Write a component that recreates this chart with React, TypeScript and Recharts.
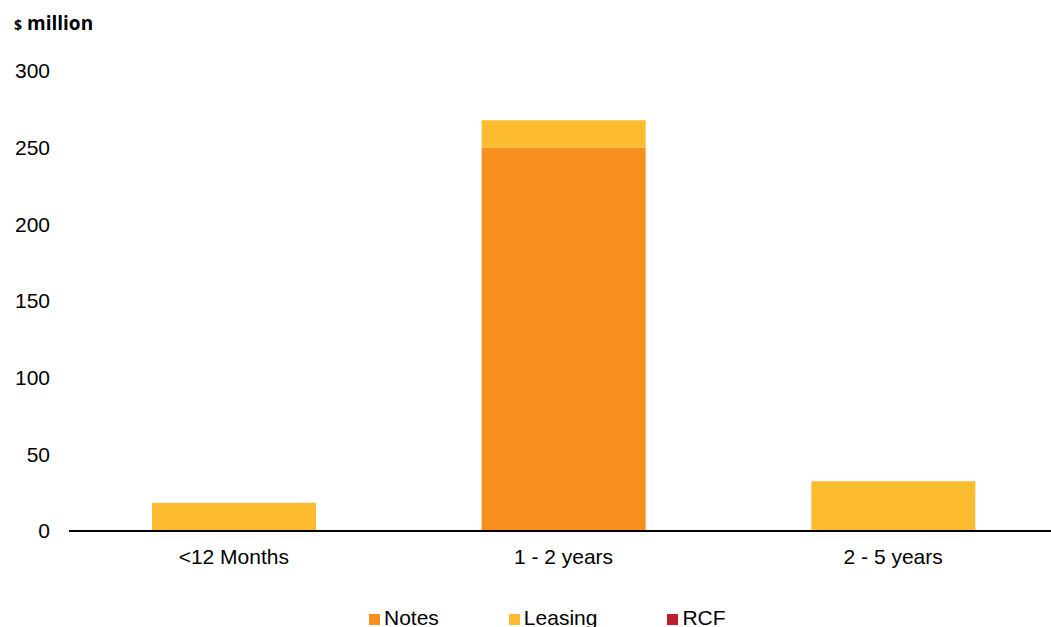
import React from "react";
import { BarChart, Bar, XAxis, YAxis, Legend } from "recharts";

// Debt maturity profile, $ million
const categories = ["<12 Months", "1 - 2 years", "2 - 5 years"];
const notes = [0, 250, 0];
const leasing = [18.5, 17.8, 32.4];
const rcf = [0, 0, 0];
const yTicks = [0, 50, 100, 150, 200, 250, 300];

const seriesNames = { notes: "Notes", leasing: "Leasing", rcf: "RCF" };
const colors = { notes: "#F7901E", leasing: "#FDBB30", rcf: "#BE1E2D" };

const data = categories.map((name, i) => ({
  name,
  notes: notes[i],
  leasing: leasing[i],
  rcf: rcf[i],
}));

const FONT = "'Liberation Sans', Arial, sans-serif";

const legendItems = [
  { key: "notes", label: seriesNames.notes, color: colors.notes },
  { key: "leasing", label: seriesNames.leasing, color: colors.leasing },
  { key: "rcf", label: seriesNames.rcf, color: colors.rcf },
];

const LegendContent = () => (
  <div
    style={{
      display: "flex",
      alignItems: "baseline",
      height: 24,
      lineHeight: "24px",
      paddingLeft: 369,
      position: "relative",
      top: 3,
      fontFamily: FONT,
      fontSize: 21,
      color: "#000",
    }}
  >
    {legendItems.map((it) => (
      <div key={it.key} style={{ display: "flex", alignItems: "baseline", marginRight: 70 }}>
        <span
          style={{
            display: "inline-block",
            width: 11,
            height: 11,
            background: it.color,
            marginRight: 4,
          }}
        />
        <span>{it.label}</span>
      </div>
    ))}
  </div>
);

const UnitLabel = () => (
  <text x={14} y={30} fontFamily="'Open Sans', sans-serif" fontWeight={700} fill="#000">
    <tspan fontSize={14}>$</tspan>
    <tspan fontSize={19} dx={5}>million</tspan>
  </text>
);

export default function App() {
  return (
    <div style={{ position: "absolute", left: 0, top: 0, width: 1051, height: 627, overflow: "hidden", background: "#fff" }}>
      <BarChart
        width={1060}
        height={627}
        data={data}
        margin={{ top: 71, right: 2, bottom: 0, left: 0 }}
        barSize={164}
      >
        <YAxis
          domain={[0, 300]}
          ticks={yTicks}
          axisLine={false}
          tickLine={false}
          width={69}
          tickMargin={13}
          tick={{ fill: "#000", fontSize: 21, fontFamily: FONT }}
          label={<UnitLabel />}
        />
        <XAxis
          dataKey="name"
          height={72}
          tickLine={false}
          axisLine={{ stroke: "#000", strokeWidth: 2 }}
          tickMargin={12}
          tick={{ fill: "#000", fontSize: 21, fontFamily: FONT }}
        />
        <Legend verticalAlign="bottom" content={<LegendContent />} />
        <Bar dataKey="notes" name={seriesNames.notes} stackId="a" fill={colors.notes} isAnimationActive={false} />
        <Bar dataKey="leasing" name={seriesNames.leasing} stackId="a" fill={colors.leasing} isAnimationActive={false} />
        <Bar dataKey="rcf" name={seriesNames.rcf} stackId="a" fill={colors.rcf} isAnimationActive={false} />
      </BarChart>
    </div>
  );
}
